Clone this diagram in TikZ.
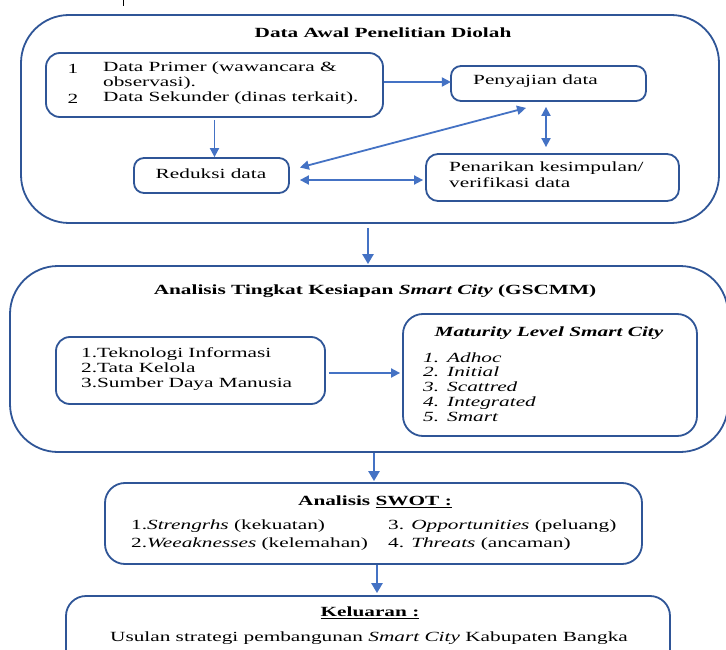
\documentclass[tikz,border=0pt]{standalone}
\usepackage{fontspec}
\setmainfont{Liberation Serif}[FakeStretch=1.52]
\usetikzlibrary{calc,arrows.meta}
\definecolor{boxblue}{HTML}{2F5597}
\definecolor{arrblue}{HTML}{4472C4}
\tikzset{
  frame/.style={draw=boxblue, line width=1.8pt, rounded corners=#1, inner sep=0pt},
  frame/.default=14pt,
  arr/.style={draw=arrblue, line width=1.8pt, -{Triangle[length=9pt,width=9pt]}},
  darr/.style={draw=arrblue, line width=1.8pt, {Triangle[length=9pt,width=9pt]}-{Triangle[length=9pt,width=9pt]}},
  bigarr/.style={draw=arrblue, line width=2.4pt, -{Triangle[length=10pt,width=11pt]}},
  txt/.style={inner sep=0pt, anchor=mid west},
  every node/.style={font=\fontsize{14}{15}\selectfont},
}
\begin{document}
\begin{tikzpicture}[x=1pt,y=-1pt]
\clip (0,0) rectangle (726,650);
\fill[white] (0,0) rectangle (726,650);
% small cut-off glyph at top
\draw[black, line width=1pt] (123,0) -- (123,6);

% ---------- Section 1 ----------
\node[frame=48pt, minimum width=698pt, minimum height=208pt] (box1) at (370,119) {};
\node[inner sep=0pt] (t1) at (383,33) {\textbf{Data Awal Penelitian Diolah}};

\node[frame=14pt, minimum width=337pt, minimum height=64pt] (A) at (214.5,85) {};
\node[inner sep=0pt] (a1n) at (73,69) {1};
\node[txt] (a1) at (103,69) {Data Primer (wawancara \&};
\node[txt] (a1b) at (103,84) {observasi).};
\node[inner sep=0pt] (a2n) at (73,99) {2};
\node[txt] (a2) at (103,99) {Data Sekunder (dinas terkait).};

\node[frame=10pt, minimum width=195pt, minimum height=35pt] (peny) at (548.5,83.5) {};
\node[txt] (penyt) at (473,82) {Penyajian data};

\node[frame=10pt, minimum width=155pt, minimum height=35pt] (red) at (211.5,175.5) {};
\node[inner sep=0pt] (redt) at (211,174) {Reduksi data};

\node[frame=12pt, minimum width=253pt, minimum height=47pt] (pen) at (552.5,177.5) {};
\node[txt] (pent1) at (449,169) {Penarikan kesimpulan/};
\node[txt] (pent2) at (449,185) {verifikasi data};

\draw[arr] (peny.west -| A.east) ++(0,-1.5) -- ++(67,0);
\draw[arr] (A.south) ++(0,2) -- (A.south |- red.north);
\draw[darr] ($(red.east)+(10,-8)$) -- ($(peny.south)+(-22.5,6)$);
\draw[darr] ($(peny.south)+(-2.5,5)$) -- ($(pen.north)+(-6.5,-6)$);
\draw[darr] ($(red.east)+(10,4.5)$) -- ($(pen.west)+(-2,2.5)$);

% ---------- Section 2 ----------
\node[frame=48pt, minimum width=718pt, minimum height=186pt] (box2) at (369,359) {};
\node[inner sep=0pt] (t2) at (375,291) {\textbf{Analisis Tingkat Kesiapan \textit{Smart City} (GSCMM)}};

\draw[bigarr] ($(box1.south)+(-2,4)$) -- ($(box2.north)+(-1,-1)$);

\node[frame=14pt, minimum width=269pt, minimum height=67pt] (left) at (190.5,370.5) {};
\node[txt] (l1) at (81,355) {1.Teknologi Informasi};
\node[txt] (l2) at (81,370) {2.Tata Kelola};
\node[txt] (l3) at (81,385) {3.Sumber Daya Manusia};

\node[frame=20pt, minimum width=294pt, minimum height=122pt] (mat) at (550,375) {};
\node[inner sep=0pt] (matt) at (549,333) {\textbf{\textit{Maturity Level Smart City}}};
\node[txt] (m1n) at (423,360) {\textit{1.}};
\node[txt] (m1) at (447,360) {\textit{Adhoc}};
\node[txt] (m2n) at (423,374) {\textit{2.}};
\node[txt] (m2) at (447,374) {\textit{Initial}};
\node[txt] (m3n) at (423,389) {\textit{3.}};
\node[txt] (m3) at (447,389) {\textit{Scattred}};
\node[txt] (m4n) at (423,404) {\textit{4.}};
\node[txt] (m4) at (447,404) {\textit{Integrated}};
\node[txt] (m5n) at (423,419) {\textit{5.}};
\node[txt] (m5) at (447,419) {\textit{Smart}};

\draw[arr] ($(left.east)+(3,2.5)$) -- ($(mat.west)+(-2,-2)$);

% ---------- SWOT ----------
\node[frame=20pt, minimum width=537pt, minimum height=81pt] (swot) at (373.5,523.5) {};
\node[inner sep=0pt] (swott) at (375,502) {\textbf{Analisis \underline{SWOT :}}};
\node[txt] (s1) at (131,527) {1.\textit{Strengrhs} (kekuatan)};
\node[txt] (s2) at (131,545) {2.\textit{Weeaknesses} (kelemahan)};
\node[txt] (s3) at (388,527) {3. \textit{Opportunities} (peluang)};
\node[txt] (s4) at (388,545) {4. \textit{Threats} (ancaman)};

\draw[bigarr] ($(box2.south)+(5,0)$) -- ($(swot.north)+(0.5,-1)$);

% ---------- Keluaran ----------
\node[frame=20pt, minimum width=604pt, minimum height=84pt] (kel) at (368,638) {};
\node[inner sep=0pt] (kelt) at (370,613) {\textbf{\underline{Keluaran :}}};
\node[inner sep=0pt] (kelx) at (369,638) {Usulan strategi pembangunan \textit{Smart City} Kabupaten Bangka};

\draw[bigarr] ($(swot.south)+(3.5,0)$) -- ($(kel.north)+(9,-2)$);
\end{tikzpicture}
\end{document}
